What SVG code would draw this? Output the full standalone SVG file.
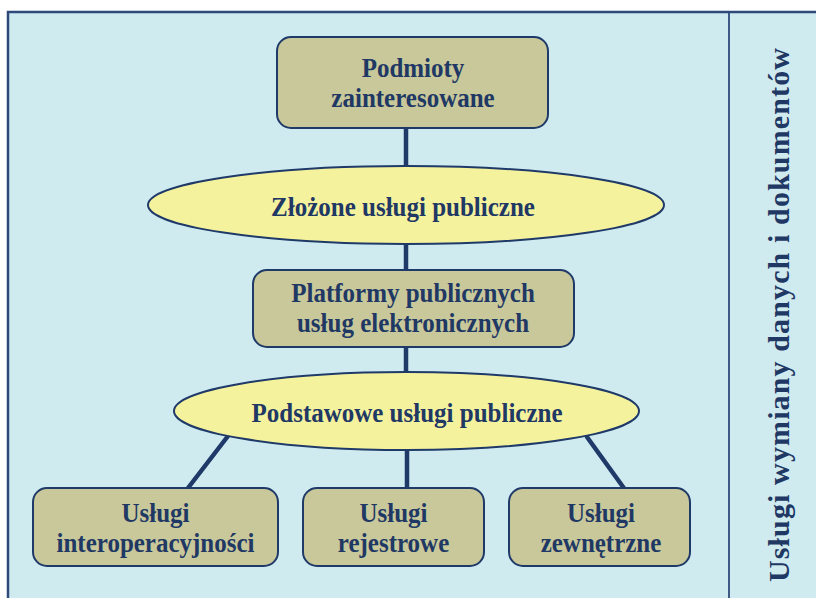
<svg xmlns="http://www.w3.org/2000/svg" width="816" height="598" viewBox="0 0 816 598">
  <style>
    .frame { fill: #cfebf0; stroke: #2e4a7a; stroke-width: 2.5; }
    .box { fill: #c8c89a; stroke: #1f3a68; stroke-width: 2; }
    .oval { fill: #f5f29e; stroke: #1f3a68; stroke-width: 2; }
    .link { stroke: #1f3a68; stroke-width: 4.5; stroke-linecap: round; fill: none; }
    text { font-family: 'Liberation Serif', 'Times New Roman', serif; font-weight: 700; font-size: 25px; fill: #1f3864; text-anchor: middle; }
    .side { font-size: 30px; }
  </style>

  <!-- background panel with side column -->
  <rect class="frame" x="8" y="12" width="820" height="600"/>
  <line x1="729" y1="12" x2="729" y2="598" stroke="#2e4a7a" stroke-width="1.8"/>
  <text class="side" transform="translate(789 315) rotate(-90)" textLength="534" lengthAdjust="spacing">Usługi wymiany danych i dokumentów</text>

  <!-- connectors -->
  <g id="connectors">
    <line class="link" x1="406" y1="128" x2="406" y2="166"/>
    <line class="link" x1="406" y1="244" x2="406" y2="270"/>
    <line class="link" x1="406" y1="347" x2="406" y2="372"/>
    <line class="link" x1="407" y1="450" x2="407" y2="488"/>
    <line class="link" x1="228" y1="436" x2="188" y2="488"/>
    <line class="link" x1="587" y1="437" x2="626" y2="491"/>
  </g>

  <!-- labels are drawn slightly taller than wide -->
  <g id="podmioty">
    <rect class="box" x="277" y="37" width="271" height="91" rx="14"/>
    <text transform="translate(413 77) scale(1 1.1)">Podmioty</text>
    <text transform="translate(413 107) scale(1 1.1)">zainteresowane</text>
  </g>

  <g id="zlozone">
    <ellipse class="oval" cx="406" cy="205" rx="258" ry="39"/>
    <text transform="translate(403 216) scale(1 1.1)">Złożone usługi publiczne</text>
  </g>

  <g id="platformy">
    <rect class="box" x="253" y="270" width="321" height="77" rx="14"/>
    <text transform="translate(413 302) scale(1 1.1)">Platformy publicznych</text>
    <text transform="translate(413 332) scale(1 1.1)">usług elektronicznych</text>
  </g>

  <g id="podstawowe">
    <ellipse class="oval" cx="406.5" cy="411" rx="232.5" ry="39"/>
    <text transform="translate(407 422) scale(1 1.1)">Podstawowe usługi publiczne</text>
  </g>

  <g id="interoperacyjnosc">
    <rect class="box" x="33" y="488" width="245" height="78" rx="14"/>
    <text transform="translate(155.5 522) scale(1 1.1)">Usługi</text>
    <text transform="translate(155.5 552) scale(1 1.1)">interoperacyjności</text>
  </g>

  <g id="rejestrowe">
    <rect class="box" x="303" y="488" width="181" height="78" rx="14"/>
    <text transform="translate(393.5 522) scale(1 1.1)">Usługi</text>
    <text transform="translate(393.5 552) scale(1 1.1)">rejestrowe</text>
  </g>

  <g id="zewnetrzne">
    <rect class="box" x="509" y="488" width="181" height="78" rx="14"/>
    <text transform="translate(601 522) scale(1 1.1)">Usługi</text>
    <text transform="translate(601 552) scale(1 1.1)">zewnętrzne</text>
  </g>
</svg>
